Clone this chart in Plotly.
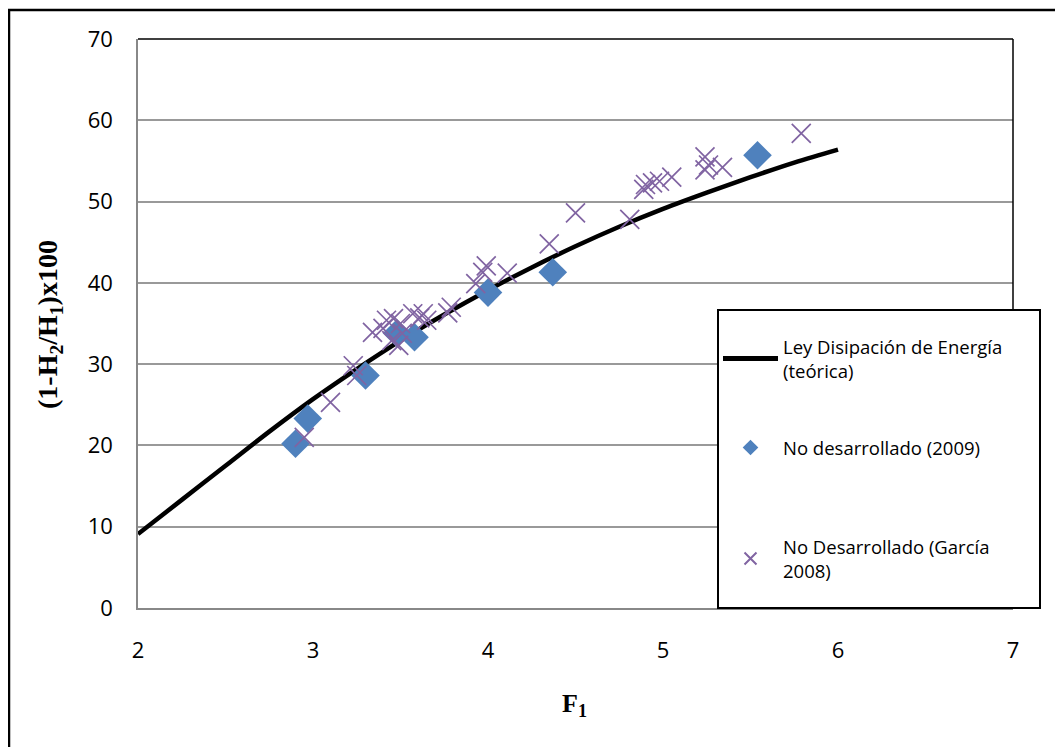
import plotly.graph_objects as go

# Theoretical energy dissipation law
theory_F = [2.0, 2.25, 2.5, 2.75, 3.0, 3.25, 3.5, 3.75, 4.0, 4.25, 4.5, 4.75, 5.0, 5.25, 5.5, 5.75, 6.0]
theory_y = [9.1, 13.3, 17.5, 21.7, 25.7, 29.4, 32.9, 36.1, 39.1, 41.9, 44.5, 46.9, 49.1, 51.1, 53.0, 54.8, 56.4]

# No desarrollado (2009)
nd2009_F = [2.90, 2.97, 3.30, 3.48, 3.58, 4.00, 4.37, 5.54]
nd2009_y = [20.2, 23.3, 28.6, 33.8, 33.3, 38.8, 41.3, 55.7]

# No Desarrollado (García 2008)
garcia_F = [2.95, 3.10, 3.23, 3.25, 3.34, 3.40, 3.42, 3.45, 3.46, 3.49, 3.50, 3.51,
            3.57, 3.61, 3.63, 3.65, 3.77, 3.79, 3.93, 3.97, 3.99, 4.11, 4.35, 4.50,
            4.81, 4.89, 4.90, 4.94, 4.98, 5.05, 5.24, 5.24, 5.26, 5.34, 5.79]
garcia_y = [21.0, 25.3, 29.8, 28.6, 33.9, 34.4, 35.4, 32.9, 35.6, 32.3, 35.0, 33.8,
            36.2, 35.7, 36.2, 35.4, 36.3, 37.0, 39.9, 41.3, 42.1, 41.2, 44.8, 48.6,
            47.8, 51.5, 52.1, 52.3, 52.5, 53.0, 55.5, 53.9, 54.5, 54.2, 58.4]

x_ticks = [2, 3, 4, 5, 6, 7]
y_ticks = [0, 10, 20, 30, 40, 50, 60, 70]

FONT = "Open Sans"

# page body has an 8px margin; plot area should span x 138..1013, y 39..608 in the window
W, H = 1055, 739
L, R, T, B = 130, 50, 31, 139
PW = W - L - R   # 875
PH = H - T - B   # 569


def px(xw):  # window x -> paper x
    return (xw - 8 - L) / PW


def py(yw):  # window y -> paper y
    return (H - B - (yw - 8)) / PH


fig = go.Figure()
fig.add_trace(go.Scatter(
    x=theory_F, y=theory_y, mode="lines", line=dict(color="black", width=4.5, shape="spline"),
    name="Ley Disipación de Energía<br>(teórica)", legend="legend"))
fig.add_trace(go.Scatter(
    x=nd2009_F, y=nd2009_y, mode="markers",
    marker=dict(symbol="diamond", size=22, color="#4F81BD"),
    name="No desarrollado (2009)", legend="legend2"))
fig.add_trace(go.Scatter(
    x=garcia_F, y=garcia_y, mode="markers",
    marker=dict(symbol="x-thin-open", size=19, color="#8064A2", line=dict(color="#8064A2", width=1.7)),
    name="No Desarrollado (García<br>2008)", legend="legend3"))

legend_common = dict(
    x=px(718), xanchor="left",
    bgcolor="rgba(0,0,0,0)", borderwidth=0,
    font=dict(family=FONT, size=18.5, color="black"),
    itemsizing="constant", itemwidth=55,
)

fig.update_layout(
    width=W, height=H,
    margin=dict(l=L, r=R, t=T, b=B),
    paper_bgcolor="white", plot_bgcolor="white",
    font=dict(family=FONT, size=22, color="black"),
    showlegend=True,
    legend=dict(y=py(328), yanchor="top", **legend_common),
    legend2=dict(y=py(448), yanchor="middle", **legend_common),
    legend3=dict(y=py(528), yanchor="top", **legend_common),
    xaxis=dict(range=[2, 7], tickvals=x_ticks, showgrid=False, zeroline=False,
               showline=True, linecolor="#888888", linewidth=1.5,
               ticks="", ticklabelstandoff=22, tickfont=dict(size=22)),
    yaxis=dict(range=[0, 70], tickvals=y_ticks, showgrid=True, gridcolor="#999999", gridwidth=1.5,
               zeroline=False, showline=True, linecolor="#888888", linewidth=1.5,
               ticks="", ticklabelstandoff=19, tickfont=dict(size=22)),
    shapes=[
        # plot area top & right borders
        dict(type="line", xref="paper", yref="paper", x0=0, x1=1, y0=1, y1=1,
             line=dict(color="black", width=1.5)),
        dict(type="line", xref="paper", yref="paper", x0=1, x1=1, y0=0, y1=1,
             line=dict(color="black", width=1.5)),
        # outer chart border
        dict(type="rect", xref="paper", yref="paper",
             x0=px(9), x1=px(1075), y0=py(760), y1=py(10),
             line=dict(color="black", width=2.5), layer="below"),
        # legend box
        dict(type="rect", xref="paper", yref="paper",
             x0=px(718), x1=px(1040), y0=py(608), y1=py(310),
             fillcolor="white", line=dict(color="black", width=2), layer="above"),
    ],
    annotations=[
        dict(text="<b>(1-H<sub>2</sub>/H<sub>1</sub>)x100</b>", xref="paper", yref="paper",
             x=px(50), y=py(325), xanchor="center", yanchor="middle",
             showarrow=False, textangle=-90,
             font=dict(family="Liberation Serif", size=28, color="black")),
        dict(text="<b>F<sub>1</sub></b>", xref="paper", yref="paper",
             x=px(574), y=py(705), xanchor="center", yanchor="middle", showarrow=False,
             font=dict(family="Liberation Serif", size=26, color="black")),
    ],
)

fig.write_html("out.html")
